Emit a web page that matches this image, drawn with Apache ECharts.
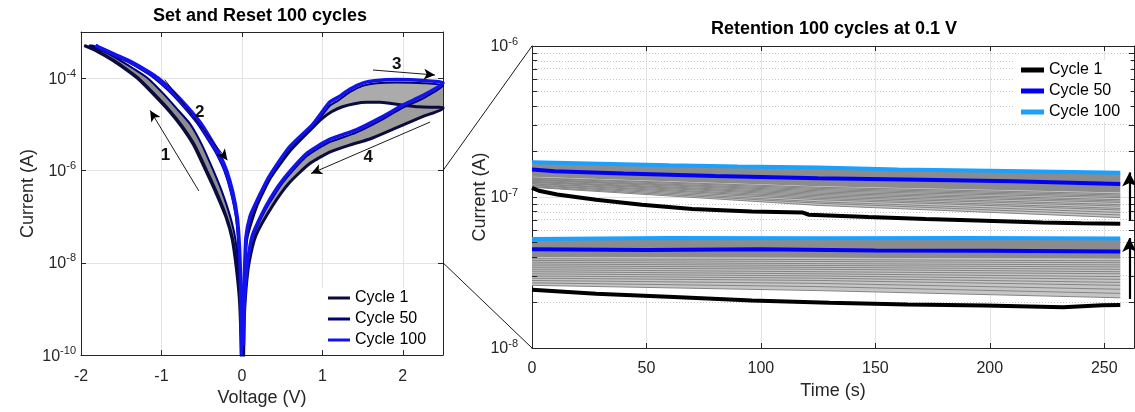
<!DOCTYPE html>
<html><head><meta charset="utf-8">
<script src="https://cdn.jsdelivr.net/npm/echarts@6/dist/echarts.min.js"></script>
<style>html,body{margin:0;padding:0;background:#fff}#c{width:1135px;height:412px}</style>
</head><body><div id="c"></div>
<script>
// ================= DATA =================
// Left panel: I-V sweeps [Voltage (V), Current (A)]
const c1Sweep1 = [[0.0,4e-11],[-0.02,6.3e-10],[-0.035,2.0e-9],[-0.07,7.9e-9],[-0.12,3.2e-8],[-0.2,1.0e-7],[-0.32,3.2e-7],[-0.45,1.0e-6],[-0.6,3.55e-6],[-0.75,8.9e-6],[-0.9,1.9e-5],[-1.1,4.5e-5],[-1.3,1.0e-4],[-1.45,1.58e-4],[-1.6,2.4e-4],[-1.8,3.8e-4],[-1.96,5.1e-4]];
const c1Sweep2 = [[-1.96,5.1e-4],[-1.79,3.8e-4],[-1.59,2.4e-4],[-1.44,1.58e-4],[-1.29,1.0e-4],[-1.09,4.5e-5],[-0.89,1.9e-5],[-0.74,8.9e-6],[-0.59,3.55e-6],[-0.44,1.0e-6],[-0.31,3.2e-7],[-0.195,1.0e-7],[-0.115,3.2e-8],[-0.066,7.9e-9],[-0.033,2.0e-9],[-0.018,6.3e-10],[-0.01,2.5e-10]];
const c1Sweep3 = [[0.015,6.3e-11],[0.03,2.0e-9],[0.06,3.2e-8],[0.19,1.78e-7],[0.36,7.1e-7],[0.61,2.8e-6],[0.88,8.5e-6],[1.0,1.35e-5],[1.12,1.9e-5],[1.25,2.4e-5],[1.4,2.8e-5],[1.55,3.0e-5],[1.72,3.0e-5],[1.97,2.65e-5],[2.2,2.4e-5],[2.5,2.3e-5]];
const c1Sweep4 = [[2.5,2.2e-5],[2.26,1.5e-5],[1.925,8.5e-6],[1.59,4.8e-6],[1.34,3.55e-6],[1.09,2.5e-6],[0.84,1.4e-6],[0.59,5.4e-7],[0.38,1.7e-7],[0.175,3.9e-8],[0.09,1.0e-8],[0.05,2.5e-9],[0.03,6.3e-10],[0.02,6.3e-11]];

const c50Sweep1 = [[-0.005,1e-10],[-0.013,6.3e-10],[-0.022,2.0e-9],[-0.045,7.9e-9],[-0.08,3.2e-8],[-0.145,1.0e-7],[-0.24,3.2e-7],[-0.355,1.0e-6],[-0.495,3.55e-6],[-0.64,1.0e-5],[-0.79,2.0e-5],[-0.97,4.5e-5],[-1.17,1.0e-4],[-1.34,1.58e-4],[-1.51,2.4e-4],[-1.72,3.8e-4],[-1.9,5.1e-4]];
const c50Sweep2 = [[-1.86,5.1e-4],[-1.63,3.3e-4],[-1.43,2.3e-4],[-1.23,1.45e-4],[-1.09,1.0e-4],[-0.905,5.2e-5],[-0.725,2.4e-5],[-0.555,1.05e-5],[-0.42,4.6e-6],[-0.31,2.2e-6],[-0.22,1.0e-6],[-0.14,3.5e-7],[-0.075,1.0e-7],[-0.045,2.5e-8],[-0.026,5e-9],[-0.016,1e-9],[-0.012,2.8e-10]];
const c50Sweep3 = [[0.015,2.5e-10],[0.03,2.5e-9],[0.055,3.5e-8],[0.11,1.0e-7],[0.185,2.0e-7],[0.35,7.1e-7],[0.6,3.0e-6],[0.89,9.1e-6],[1.09,2.5e-5],[1.2,3.3e-5],[1.34,5.0e-5],[1.51,6.9e-5],[1.675,7.8e-5],[1.925,8.1e-5],[2.26,7.8e-5],[2.5,6.9e-5]];
const c50Sweep4 = [[2.5,6.9e-5],[2.26,3.7e-5],[2.0,2.3e-5],[1.72,1.2e-5],[1.42,6.6e-6],[1.09,4.1e-6],[0.8,2.0e-6],[0.51,5.5e-7],[0.3,1.48e-7],[0.13,3.4e-8],[0.07,8.9e-9],[0.04,2.2e-9],[0.025,5e-10],[0.02,1.26e-10]];

const c100Sweep1 = [[-0.005,1e-10],[-0.01,1.0e-9],[-0.017,5e-9],[-0.032,2.5e-8],[-0.065,1.0e-7],[-0.125,3.5e-7],[-0.205,1.0e-6],[-0.29,2.2e-6],[-0.4,4.6e-6],[-0.53,1.05e-5],[-0.7,2.4e-5],[-0.88,5.2e-5],[-1.06,1.0e-4],[-1.2,1.45e-4],[-1.4,2.3e-4],[-1.6,3.3e-4],[-1.82,5.1e-4]];
const c100Sweep2 = [[-1.82,5.1e-4],[-1.58,3.3e-4],[-1.38,2.3e-4],[-1.18,1.45e-4],[-1.04,1.0e-4],[-0.86,5.2e-5],[-0.68,2.4e-5],[-0.51,1.05e-5],[-0.38,4.6e-6],[-0.275,2.2e-6],[-0.19,1.0e-6],[-0.115,3.5e-7],[-0.058,1.0e-7],[-0.032,2.5e-8],[-0.018,5e-9],[-0.011,1e-9],[-0.008,2.8e-10]];
const c100Sweep3 = [[0.012,3.2e-10],[0.025,2.0e-9],[0.05,3.5e-8],[0.1,1.0e-7],[0.175,2.0e-7],[0.34,7.4e-7],[0.59,3.2e-6],[0.88,1.0e-5],[1.09,3.0e-5],[1.2,3.9e-5],[1.34,5.75e-5],[1.51,7.9e-5],[1.675,8.9e-5],[1.925,9.3e-5],[2.26,8.9e-5],[2.5,7.9e-5]];
const c100Sweep4 = [[2.5,7.9e-5],[2.26,4.3e-5],[2.0,2.6e-5],[1.72,1.38e-5],[1.42,7.6e-6],[1.09,4.7e-6],[0.8,2.3e-6],[0.51,6.3e-7],[0.3,1.7e-7],[0.13,3.9e-8],[0.07,1.0e-8],[0.04,2.5e-9],[0.025,6.3e-10],[0.02,1.6e-10]];

// Left panel annotations (data coords): arrows and their numbers
const ivArrows = [[[-0.535,3.6e-7],[-1.14,2.0e-5]],[[-0.96,9.3e-5],[-0.18,1.66e-6]],[[1.63,1.5e-4],[2.40,1.17e-4]],[[2.34,1.12e-5],[0.86,8.6e-7]]];
const ivArrowLabels = [['1',-0.95,2.1e-6],['2',-0.525,1.8e-5],['3',1.925,2.0e-4],['4',1.57,1.95e-6]];
const zoomRange = [1e-8, 1e-6];

// Right panel: retention [Time (s), Current (A)]
const t100Top = [[0,1.70e-7],[30,1.66e-7],[60,1.62e-7],[90,1.59e-7],[125,1.57e-7],[160,1.52e-7],[200,1.49e-7],[257,1.45e-7]];
const t50Top = [[0,1.52e-7],[10,1.48e-7],[40,1.43e-7],[80,1.38e-7],[125,1.33e-7],[170,1.30e-7],[210,1.27e-7],[257,1.22e-7]];
const t1Top = [[0,1.15e-7],[3,1.10e-7],[11,1.04e-7],[28,9.6e-8],[48,8.9e-8],[70,8.33e-8],[96,8.03e-8],[118,7.9e-8],[121,7.63e-8],[147,7.37e-8],[172,7.15e-8],[198,6.97e-8],[223,6.79e-8],[240,6.69e-8],[257,6.65e-8]];
const t100Bot = [[0,5.28e-8],[60,5.35e-8],[125,5.33e-8],[190,5.36e-8],[257,5.32e-8]];
const t50Bot = [[0,4.5e-8],[50,4.45e-8],[100,4.5e-8],[150,4.42e-8],[200,4.4e-8],[257,4.35e-8]];
const t1Bot = [[0,2.43e-8],[28,2.29e-8],[62,2.18e-8],[96,2.06e-8],[130,1.99e-8],[164,1.94e-8],[198,1.91e-8],[232,1.86e-8],[249,1.92e-8],[257,1.93e-8]];
const grayTimes = [0, 125, 257];
const topGray = [[1.16e-7,8.8e-8,7.3e-8],[1.17e-7,9.1e-8,7.6e-8],[1.19e-7,9.3e-8,7.9e-8],[1.20e-7,9.6e-8,8.2e-8],[1.22e-7,9.8e-8,8.4e-8],[1.23e-7,1.00e-7,8.7e-8],[1.25e-7,1.02e-7,8.9e-8],[1.26e-7,1.04e-7,9.2e-8],[1.27e-7,1.06e-7,9.4e-8],[1.29e-7,1.08e-7,9.6e-8],[1.30e-7,1.10e-7,9.9e-8],[1.31e-7,1.12e-7,1.01e-7],[1.33e-7,1.14e-7,1.03e-7],[1.34e-7,1.16e-7,1.05e-7]];
const topDenseLow = [[0,1.36e-7],[125,1.18e-7],[257,1.07e-7]];
const botGray = [[2.6e-8,2.4e-8,2.15e-8],[2.7e-8,2.55e-8,2.3e-8],[2.8e-8,2.68e-8,2.45e-8],[2.9e-8,2.8e-8,2.6e-8],[3.0e-8,2.9e-8,2.72e-8],[3.1e-8,3.0e-8,2.85e-8],[3.2e-8,3.1e-8,2.97e-8],[3.3e-8,3.2e-8,3.1e-8],[3.4e-8,3.32e-8,3.2e-8],[3.5e-8,3.42e-8,3.32e-8],[3.6e-8,3.52e-8,3.44e-8],[3.7e-8,3.62e-8,3.55e-8],[3.8e-8,3.74e-8,3.67e-8],[3.9e-8,3.85e-8,3.78e-8]];
const botDenseLow = [[0,4.0e-8],[125,3.96e-8],[257,3.9e-8]];
const retMinorGrid = [2e-8,3e-8,4e-8,5e-8,6e-8,7e-8,8e-8,9e-8,2e-7,3e-7,4e-7,5e-7,6e-7,7e-7,8e-7,9e-7];
const retArrows = [[[261,6.96e-8],[261,1.455e-7]],[[261,2.11e-8],[261,5.35e-8]]];
const legendNames = ['Cycle 1','Cycle 50','Cycle 100'];

// ================= CHART =================
const FONT = "'Liberation Sans', Arial, Helvetica, sans-serif";
const AX = '#262626', GRIDC = '#e3e3e3';
const LC = {c1:'#0c0c3c', c50:'#00007a', c100:'#1212ee'};
const RC = {c1:'#000000', c50:'#0000f5', c100:'#1aa0ff'};
const TMAX = 263;
const lg = arr => arr.map(p => [p[0], Math.log10(p[1])]);
const rev = arr => arr.slice().reverse();
const richExp = {
  b:{fontSize:16, color:AX, fontFamily:FONT, verticalAlign:'bottom', lineHeight:18},
  s:{fontSize:11, color:AX, fontFamily:FONT, verticalAlign:'bottom', lineHeight:12, padding:[0,0,8,0]}
};
const expFmt = v => '{b|10}{s|' + Math.round(v) + '}';

function poly(xi, yi, pts, color){
  const P = lg(pts);
  return {type:'custom', xAxisIndex:xi, yAxisIndex:yi, silent:true, clip:true, z:1,
    data:[P[0]], renderItem:(params, api) => ({type:'polygon', shape:{points:P.map(p=>api.coord(p))}, style:{fill:color}})};
}
function line(xi, yi, name, data, color, width, z, smooth){
  return {type:'line', name:name, xAxisIndex:xi, yAxisIndex:yi, data:lg(data), showSymbol:false, symbol:'none',
    smooth:smooth||0, clip:true, z:z, silent:true, lineStyle:{color:color, width:width}, itemStyle:{color:color}};
}
function baseAxis(ext){ return Object.assign({
  axisLine:{show:true, onZero:false, lineStyle:{color:AX, width:1}},
  axisTick:{show:true, inside:true, length:5, lineStyle:{color:AX}},
  axisLabel:{color:AX, fontSize:16, fontFamily:FONT},
  splitLine:{show:false}, nameTextStyle:{color:AX, fontSize:18, fontFamily:FONT}}, ext); }

const series = [];
// Left: gray bands
series.push(poly(0,0, c1Sweep1.concat(rev(c50Sweep1)), '#8e8e8e'));
series.push(poly(0,0, c1Sweep3.filter(p=>p[0]>=0.55).concat(rev(c50Sweep3.filter(p=>p[0]>=0.55))), '#ababab'));
series.push(poly(0,0, c1Sweep4.concat(rev(c50Sweep4)), '#9d9d9d'));
series.push(line(0,0,'Cycle 1', c1Sweep1.concat(c1Sweep2, c1Sweep3, c1Sweep4), LC.c1, 3, 3, 0.2));
series.push(line(0,0,'Cycle 50', c50Sweep1.concat(c50Sweep2, c50Sweep3, c50Sweep4), LC.c50, 2, 4, 0.2));
series.push(line(0,0,'Cycle 100', c100Sweep1.concat(c100Sweep2, c100Sweep3, c100Sweep4), LC.c100, 3.5, 5, 0.2));
series.push({type:'line', xAxisIndex:0, yAxisIndex:0, data:[], silent:true, z:6,
  markLine:{silent:true, z:6, symbol:['none','arrow'], symbolSize:[8,11], animation:false,
    lineStyle:{color:'#000', width:0.9, type:'solid'}, label:{show:false},
    data: ivArrows.map(a => [{coord:[a[0][0], Math.log10(a[0][1])]}, {coord:[a[1][0], Math.log10(a[1][1])]}])},
  markPoint:{silent:true, z:6, symbol:'rect', symbolSize:1, itemStyle:{color:'rgba(0,0,0,0)'}, animation:false,
    label:{show:true, position:'inside', formatter:'{b}', color:'#111', fontSize:17, fontWeight:'bold', fontFamily:FONT},
    data: ivArrowLabels.map(a => ({name:a[0], coord:[a[1], Math.log10(a[2])]}))}
});

// Right: minor dotted grid (behind data) + minor ticks on both spines
const minorTickLen = 2.3;
series.push({type:'line', xAxisIndex:2, yAxisIndex:2, data:[], silent:true, z:0,
  markLine:{silent:true, z:0, symbol:['none','none'], animation:false, label:{show:false},
    lineStyle:{color:'#c4c4c4', width:1, type:[1,2]},
    data: retMinorGrid.map(v => ({yAxis: Math.log10(v)}))}});
series.push({type:'line', xAxisIndex:2, yAxisIndex:2, data:[], silent:true, z:6,
  markLine:{silent:true, z:6, symbol:['none','none'], animation:false, label:{show:false},
    lineStyle:{color:AX, width:1, type:'solid'},
    data: retMinorGrid.map(v => [{coord:[0, Math.log10(v)]},{coord:[minorTickLen, Math.log10(v)]}]).concat(
          retMinorGrid.map(v => [{coord:[TMAX-minorTickLen, Math.log10(v)]},{coord:[TMAX, Math.log10(v)]}]))}});
series.push(poly(2,2, grayTimes.map((t,i)=>[t, topGray[0][i]]).concat(rev(topDenseLow)), '#c6c6c6'));
series.push(poly(2,2, grayTimes.map((t,i)=>[t, botGray[0][i]]).concat(rev(botDenseLow)), '#c6c6c6'));
series.push(poly(2,2, t100Top.concat(rev(topDenseLow)), '#8c8c8c'));
series.push(poly(2,2, t100Bot.concat(rev(botDenseLow)), '#8c8c8c'));
topGray.concat(botGray).forEach(g => {
  series.push(line(2,2,undefined, grayTimes.map((t,i)=>[t,g[i]]), '#858585', 1, 2, 0));
});
series.push(line(2,2,'Cycle 1 ', t1Top, RC.c1, 4, 3, 0));
series.push(line(2,2,'Cycle 1 ', t1Bot, RC.c1, 4, 3, 0));
series.push(line(2,2,'Cycle 50 ', t50Top, RC.c50, 4, 4, 0));
series.push(line(2,2,'Cycle 50 ', t50Bot, RC.c50, 4, 4, 0));
series.push(line(2,2,'Cycle 100 ', t100Top, RC.c100, 4, 5, 0));
series.push(line(2,2,'Cycle 100 ', t100Bot, RC.c100, 4, 5, 0));
series.push({type:'line', xAxisIndex:2, yAxisIndex:2, data:[], silent:true, z:6,
  markLine:{silent:true, z:6, symbol:['none','arrow'], symbolSize:[11,14], animation:false,
    lineStyle:{color:'#000', width:2.2, type:'solid'}, label:{show:false},
    data: retArrows.map(a => [{coord:[a[0][0], Math.log10(a[0][1])]}, {coord:[a[1][0], Math.log10(a[1][1])]}])}});

const option = {
  animation:false,
  backgroundColor:'#fff',
  textStyle:{fontFamily:FONT},
  title:[
    {text:'Set and Reset 100 cycles', left:260, top:7, textAlign:'center', padding:0,
     textStyle:{fontSize:18, fontWeight:'bold', color:'#000', fontFamily:FONT}},
    {text:'Retention 100 cycles at 0.1 V', left:834, top:20, textAlign:'center', padding:0,
     textStyle:{fontSize:18, fontWeight:'bold', color:'#000', fontFamily:FONT}}
  ],
  grid:[
    {left:81, top:32, width:362, height:330, containLabel:false},
    {left:532, top:46, width:602, height:302, containLabel:false}
  ],
  legend:[
    {data:legendNames, orient:'vertical', left:322, top:288, icon:'rect', itemWidth:22, itemHeight:3, itemGap:5, z:20,
     backgroundColor:'#fff', padding:[2,6,2,6], selectedMode:false,
     textStyle:{fontSize:16, color:'#000', fontFamily:FONT, lineHeight:16}},
    {data:legendNames.map(n=>n+' '), orient:'vertical', left:1015, top:60, icon:'rect', itemWidth:23, itemHeight:5, itemGap:5, z:20,
     backgroundColor:'#fff', padding:[2,6,2,6], selectedMode:false,
     textStyle:{fontSize:16, color:'#000', fontFamily:FONT, lineHeight:16}}
  ],
  xAxis:[
    baseAxis({gridIndex:0, type:'value', min:-2, max:2.5, interval:1, name:'Voltage (V)', nameLocation:'middle', nameGap:30,
      axisLabel:{color:AX, fontSize:16, fontFamily:FONT, margin:13, showMaxLabel:false},
      splitLine:{show:true, lineStyle:{color:GRIDC, width:1}}}),
    baseAxis({gridIndex:0, type:'value', position:'top', min:-2, max:2.5, interval:1, axisLabel:{show:false}}),
    baseAxis({gridIndex:1, type:'value', min:0, max:TMAX, interval:50, name:'Time (s)', nameLocation:'middle', nameGap:28,
      axisLabel:{color:AX, fontSize:16, fontFamily:FONT, margin:13, showMaxLabel:false},
      splitLine:{show:true, lineStyle:{color:GRIDC, width:1}}}),
    baseAxis({gridIndex:1, type:'value', position:'top', min:0, max:TMAX, interval:50, axisLabel:{show:false}})
  ],
  yAxis:[
    baseAxis({gridIndex:0, type:'value', min:-10, max:-3, interval:2, name:'Current (A)', nameLocation:'middle', nameGap:44,
      nameMoveOverlap:false,
      axisLabel:{formatter:expFmt, rich:richExp, margin:5, showMaxLabel:false},
      splitLine:{show:true, lineStyle:{color:GRIDC, width:1}}}),
    baseAxis({gridIndex:0, type:'value', position:'right', min:-10, max:-3, interval:2, axisLabel:{show:false}}),
    baseAxis({gridIndex:1, type:'value', min:-8, max:-6, interval:1, name:'Current (A)', nameLocation:'middle', nameGap:43,
      nameMoveOverlap:false,
      axisLabel:{formatter:expFmt, rich:richExp, margin:14},
      splitLine:{show:true, lineStyle:{color:GRIDC, width:1}}}),
    baseAxis({gridIndex:1, type:'value', position:'right', min:-8, max:-6, interval:1, axisLabel:{show:false}})
  ],
  series:series
};
const chart = echarts.init(document.getElementById('c'), null, {renderer:'canvas'});
chart.setOption(option);

// zoom connector lines between panels (computed through the axes)
const zl = zoomRange.map(v => Math.log10(v));
const a1 = chart.convertToPixel({gridIndex:0}, [2.5, zl[1]]);
const b1 = chart.convertToPixel({gridIndex:1}, [0, zl[1]]);
const a2 = chart.convertToPixel({gridIndex:0}, [2.5, zl[0]]);
const b2 = chart.convertToPixel({gridIndex:1}, [0, zl[0]]);
chart.setOption({graphic:[
  {type:'line', silent:true, z:10, shape:{x1:a1[0], y1:a1[1], x2:b1[0], y2:b1[1]}, style:{stroke:'#000', lineWidth:0.9}},
  {type:'line', silent:true, z:10, shape:{x1:a2[0], y1:a2[1], x2:b2[0], y2:b2[1]}, style:{stroke:'#000', lineWidth:0.9}}
]});
</script>
</body></html>
